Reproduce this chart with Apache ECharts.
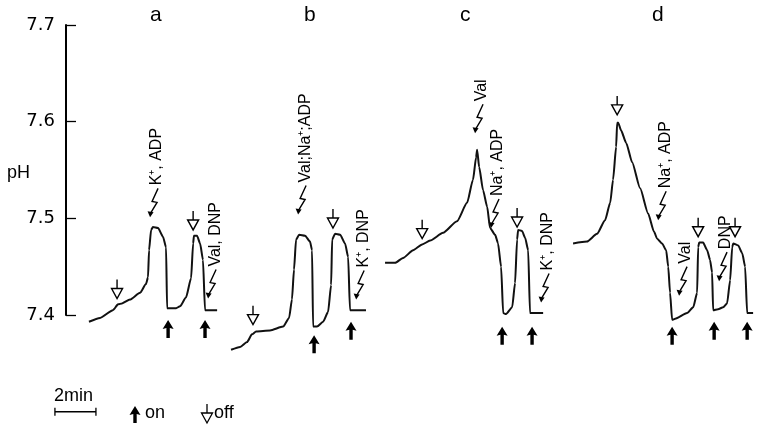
<!DOCTYPE html>
<html>
<head>
<meta charset="utf-8">
<script src="https://cdn.jsdelivr.net/npm/echarts@6/dist/echarts.min.js"></script>
<style>
  html, body { margin: 0; padding: 0; background: #fff; }
  #chart { width: 757px; height: 426px; }
</style>
</head>
<body>
<div id="chart"></div>
<script>
// pH traces, [time (min), pH]
var traceA = [[1.12,7.393],[1.66,7.397],[2.29,7.405],[2.54,7.411],[2.73,7.412],[3.12,7.416],[3.61,7.423],[3.90,7.432],[4.00,7.439],[4.05,7.467],[4.15,7.488],[4.24,7.491],[4.49,7.490],[4.73,7.481],[4.88,7.470],[4.93,7.407],[5.37,7.407],[5.56,7.409],[5.85,7.418],[6.10,7.438],[6.20,7.474],[6.24,7.482],[6.39,7.482],[6.54,7.474],[6.68,7.457],[6.78,7.405],[7.37,7.405]];
var traceB = [[8.05,7.364],[8.49,7.367],[8.83,7.372],[9.07,7.380],[9.27,7.383],[9.95,7.384],[10.59,7.388],[10.88,7.397],[11.02,7.416],[11.12,7.447],[11.22,7.478],[11.37,7.483],[11.66,7.482],[11.90,7.476],[12.00,7.467],[12.05,7.388],[12.24,7.388],[12.54,7.393],[12.78,7.403],[12.93,7.431],[12.98,7.478],[13.12,7.484],[13.37,7.483],[13.61,7.474],[13.76,7.460],[13.85,7.405],[14.63,7.405]];
var traceC = [[15.56,7.454],[16.05,7.454],[16.44,7.459],[16.93,7.467],[17.37,7.473],[17.76,7.477],[18.39,7.485],[19.07,7.497],[19.56,7.516],[19.85,7.540],[20.00,7.563],[20.05,7.571],[20.15,7.553],[20.34,7.529],[20.54,7.512],[20.68,7.490],[20.93,7.483],[21.07,7.474],[21.22,7.450],[21.32,7.402],[21.46,7.401],[21.76,7.408],[21.90,7.433],[22.00,7.478],[22.05,7.488],[22.24,7.487],[22.39,7.480],[22.54,7.467],[22.63,7.402],[23.27,7.402]];
var traceD = [[24.73,7.474],[25.41,7.476],[25.90,7.484],[26.29,7.498],[26.54,7.516],[26.68,7.540],[26.83,7.574],[26.88,7.599],[26.93,7.599],[27.07,7.591],[27.32,7.578],[27.61,7.558],[28.00,7.531],[28.39,7.505],[28.68,7.486],[28.83,7.479],[29.07,7.474],[29.27,7.467],[29.37,7.450],[29.46,7.423],[29.56,7.395],[29.71,7.396],[30.29,7.402],[30.59,7.408],[30.78,7.423],[30.83,7.470],[30.88,7.475],[31.07,7.475],[31.27,7.467],[31.41,7.457],[31.51,7.444],[31.56,7.405],[31.80,7.406],[32.05,7.408],[32.24,7.412],[32.39,7.436],[32.49,7.470],[32.54,7.474],[32.78,7.472],[32.98,7.464],[33.12,7.450],[33.22,7.402],[33.51,7.402]];

// light on / off marks (arrow tip)
var onMarks = [[4.98,7.397],[6.78,7.397],[12.10,7.381],[13.90,7.395],[21.27,7.390],[22.73,7.390],[29.56,7.390],[31.61,7.395],[33.22,7.395]];
var offMarks = [[2.49,7.417],[6.20,7.488],[9.12,7.390],[13.02,7.490],[17.37,7.479],[22.00,7.491],[26.88,7.607],[30.83,7.481],[32.63,7.481]];

// additions (arrow tip) and their names
var addTips = [[4.10,7.501],[6.93,7.417],[11.32,7.504],[14.15,7.416],[19.95,7.588],[20.73,7.490],[23.17,7.413],[28.88,7.498],[29.90,7.420],[31.85,7.435]];
var addNames = ['K⁺, ADP', 'Val, DNP', 'Val;Na⁺;ADP', 'K⁺, DNP', 'Val', 'Na⁺, ADP', 'K⁺, DNP', 'Na⁺, ADP', 'Val', 'DNP'];

var yTicks = [7.4, 7.5, 7.6, 7.7];
var panels = ['a', 'b', 'c', 'd'];
var scaleBar = [[-0.54, 7.3]]; // 2 min bar

var FONT = 'Liberation Sans, Arial, sans-serif';

function traceSeries(d) {
  return {
    type: 'line', data: d, symbol: 'none', clip: false,
    smooth: 0.2, smoothMonotone: 'x',
    lineStyle: { color: '#111', width: 2 }, silent: true
  };
}

function offArrow(params, api) {
  var p = api.coord([api.value(0), api.value(1)]);
  return { type: 'group', children: [
    { type: 'line', shape: { x1: p[0], y1: p[1] - 19, x2: p[0], y2: p[1] - 10 }, style: { stroke: '#000', lineWidth: 1.4 } },
    { type: 'polygon', shape: { points: [[p[0] - 5.5, p[1] - 10], [p[0] + 5.5, p[1] - 10], [p[0], p[1]]] }, style: { fill: '#fff', stroke: '#000', lineWidth: 1.4 } }
  ]};
}

function onArrow(params, api) {
  var p = api.coord([api.value(0), api.value(1)]);
  var x = p[0], y = p[1] + 2;
  return { type: 'polygon', shape: { points: [[x, y], [x + 5.5, y + 9], [x + 1.7, y + 8], [x + 1.7, y + 18], [x - 1.7, y + 18], [x - 1.7, y + 8], [x - 5.5, y + 9]] }, style: { fill: '#000' } };
}

function addArrow(params, api) {
  var p = api.coord([api.value(0), api.value(1)]);
  var x = p[0], y = p[1];
  return { type: 'group', children: [
    { type: 'polyline', shape: { points: [[x + 8, y - 29], [x + 2, y - 16], [x + 7, y - 15], [x + 1, y - 5]] }, style: { stroke: '#000', lineWidth: 1.4, fill: null } },
    { type: 'polygon', shape: { points: [[x - 2.5, y - 6], [x + 3.5, y - 5], [x, y]] }, style: { fill: '#000' } },
    { type: 'text', x: x + 7, y: y - 32, rotation: Math.PI / 2,
      style: { text: addNames[params.dataIndex], fontSize: 16, fontFamily: FONT, fill: '#000', align: 'left', verticalAlign: 'middle' } }
  ]};
}

function scaleRender(params, api) {
  var p0 = api.coord([api.value(0), api.value(1)]);
  var p1 = api.coord([api.value(0) + 2, api.value(1)]);
  return { type: 'group', children: [
    { type: 'line', shape: { x1: p0[0], y1: p0[1], x2: p1[0], y2: p1[1] }, style: { stroke: '#000', lineWidth: 1.5 } },
    { type: 'line', shape: { x1: p0[0], y1: p0[1] - 4, x2: p0[0], y2: p0[1] + 4 }, style: { stroke: '#000', lineWidth: 1.3 } },
    { type: 'line', shape: { x1: p1[0], y1: p1[1] - 4, x2: p1[0], y2: p1[1] + 4 }, style: { stroke: '#000', lineWidth: 1.3 } },
    { type: 'text', x: (p0[0] + p1[0]) / 2 - 2, y: p0[1] - 7,
      style: { text: '2min', fontSize: 18, fontFamily: FONT, fill: '#000', align: 'center', verticalAlign: 'bottom' } }
  ]};
}

var panelX = [156, 310, 466, 658];

var chart = echarts.init(document.getElementById('chart'), null, { renderer: 'canvas' });
chart.setOption({
  animation: false,
  backgroundColor: '#fff',
  grid: { left: 66, top: 25, width: 691, height: 290, outerBoundsMode: 'none', containLabel: false },
  xAxis: { type: 'value', min: 0, max: 33.7, show: false },
  yAxis: {
    type: 'value', min: 7.4, max: 7.7, interval: 0.1,
    axisLine: { show: true, lineStyle: { color: '#000', width: 2 } },
    axisTick: { show: true, inside: true, length: 10, lineStyle: { color: '#000', width: 1.3 } },
    axisLabel: { fontSize: 18, fontFamily: 'DejaVu Sans', color: '#000', margin: 11,
      formatter: function (v) { return yTicks.indexOf(+v.toFixed(1)) >= 0 ? v.toFixed(1) : ''; } },
    splitLine: { show: false }
  },
  graphic: panels.map(function (t, i) {
    return { type: 'text', left: panelX[i] - 6, top: 5, style: { text: t, fontSize: 21, fontFamily: FONT, fill: '#000' } };
  }).concat([
    { type: 'text', left: 7, top: 164, style: { text: 'pH', fontSize: 18, fontFamily: FONT, fill: '#000' } },
    { type: 'polygon', shape: { points: [[135, 406], [140.5, 415], [136.7, 414], [136.7, 423], [133.3, 423], [133.3, 414], [129.5, 415]] }, style: { fill: '#000' } },
    { type: 'text', left: 145, top: 404, style: { text: 'on', fontSize: 18, fontFamily: FONT, fill: '#000' } },
    { type: 'line', shape: { x1: 207, y1: 404, x2: 207, y2: 413 }, style: { stroke: '#000', lineWidth: 1.3 } },
    { type: 'polygon', shape: { points: [[201.5, 413], [212.5, 413], [207, 423]] }, style: { fill: '#fff', stroke: '#000', lineWidth: 1.3 } },
    { type: 'text', left: 214, top: 404, style: { text: 'off', fontSize: 18, fontFamily: FONT, fill: '#000' } }
  ]),
  series: [
    traceSeries(traceA), traceSeries(traceB), traceSeries(traceC), traceSeries(traceD),
    { type: 'custom', data: offMarks, renderItem: offArrow, clip: false, silent: true },
    { type: 'custom', data: onMarks, renderItem: onArrow, clip: false, silent: true },
    { type: 'custom', data: addTips, renderItem: addArrow, clip: false, silent: true },
    { type: 'custom', data: scaleBar, renderItem: scaleRender, clip: false, silent: true }
  ]
});
</script>
</body>
</html>
